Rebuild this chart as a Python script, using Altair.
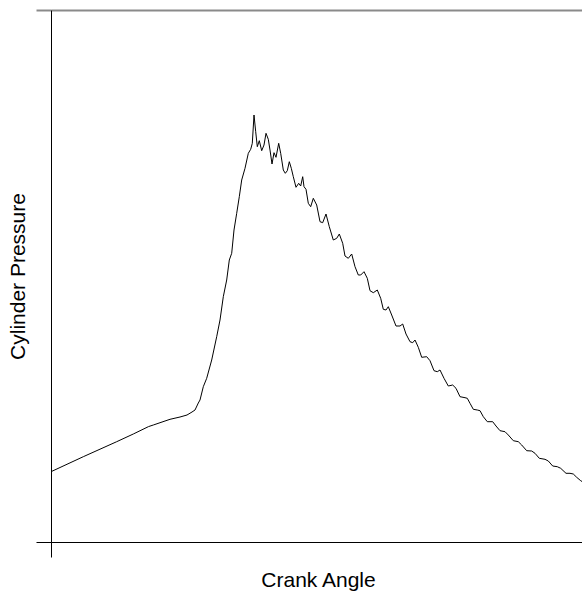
import altair as alt
import pandas as pd

# Crank angle (arbitrary units along the x axis) and cylinder pressure (arbitrary units)
crank = [0, 32.3, 65.7, 82.3, 97.5, 102.3, 119, 129, 136, 141, 144, 147.3, 149, 152.3,
         155.7, 160.7, 165.7, 169, 172.3, 175.7, 178.3, 180.7, 183, 185.7, 188.3, 190.7,
         194, 197.3, 199.7, 201.3, 203, 204.7, 206.3, 208.3, 210.7, 213, 215, 217.3, 219,
         221, 223, 225, 227.7, 229.7, 232.3, 234.3, 236.3, 238.3, 240.3, 242.3, 245, 247.7,
         249.7, 251.7, 253, 255, 257.3, 259.7, 262.3, 265.7, 269, 271.7, 275, 278.3, 282.3,
         285.7, 288.3, 291.7, 294, 297.3, 300.7, 304, 307.3, 309.7, 313, 316.3, 319, 322.3,
         326.3, 329.7, 332.3, 335, 337.3, 340.7, 345, 349, 351.7, 355, 359, 361.7, 364,
         367.3, 370.7, 375.7, 379, 383, 386.3, 389, 393, 397.3, 401.7, 405, 409, 414, 416.3,
         419, 422.3, 426.3, 429, 432.3, 436.3, 441.7, 445, 449, 454, 457.3, 462.3, 467.3,
         470.7, 475.7, 480.7, 484, 488.3, 494, 497.3, 501.7, 506.3, 509.7, 515, 519, 522.3,
         525.7, 529.7, 531]
pressure = [70.3, 85.3, 100.3, 108, 115.4, 117, 122.7, 125, 127, 130, 132, 139, 142, 155.3,
            163.7, 182, 205.3, 222, 245.3, 262, 282, 288.7, 312, 328.7, 345.3, 362,
            373.7, 388.7, 392.7, 398.7, 427, 410.3, 395.3, 401.3, 391.3, 397, 408.7, 402.7, 392,
            378, 389.3, 384.7, 398.7, 388.7, 372, 368.7, 371.3, 380.3, 373.7, 365.3, 354.7, 358.7,
            356, 365.3, 355.3, 352.7, 338.7, 335.3, 343.7, 337, 320.3, 319.3, 328, 315.3, 302,
            303.7, 308, 298.7, 286, 283.7, 288, 275.3, 267, 267, 270.3, 263.7, 251.3, 249.3,
            252, 243.7, 232.7, 232, 235.3, 227, 216, 216, 218, 208, 200.3, 199.3, 202,
            194.7, 184.7, 185.3, 181.3, 171.3, 170.3, 172, 163.7, 156, 157, 153.7, 145.3, 144.3, 143.7,
            138.7, 132.7, 132, 131.3, 125.3, 120.3, 120.3, 116, 111.3, 110.3, 107, 101.3, 100.3,
            97, 91.3, 91, 88.7, 83.7, 82.7, 81, 76, 75.3, 73.7, 68.7, 68.7, 68,
            64.7, 61.3, 60.5]

x_domain = [0, 531]
y_domain = [0, 532]

df = pd.DataFrame({"crank": crank, "pressure": pressure})

FONT = "Liberation Sans"

chart = alt.Chart(df).mark_line(color="black", strokeWidth=1).encode(
    x=alt.X(
        "crank:Q",
        scale=alt.Scale(domain=x_domain, nice=False, zero=False),
        axis=alt.Axis(
            values=[x_domain[0]], labels=False, tickSize=15, tickColor="black",
            tickWidth=1, domainColor="black", domainWidth=1, grid=False,
            title="Crank Angle", titleFont=FONT, titleFontSize=21,
            titleFontWeight="normal", titleColor="black",
            titleX=267, titleY=44, titleBaseline="alphabetic", titleAlign="center",
        ),
    ),
    y=alt.Y(
        "pressure:Q",
        scale=alt.Scale(domain=y_domain, nice=False, zero=False),
        axis=alt.Axis(
            values=y_domain, labels=False, tickSize=15,
            tickColor={"condition": {"test": "datum.value > 0", "value": "#8a8a8a"}, "value": "black"},
            tickWidth={"condition": {"test": "datum.value > 0", "value": 2}, "value": 1},
            domainColor="black", domainWidth=1,
            grid=True,
            gridColor={"condition": {"test": "datum.value > 0", "value": "#8a8a8a"}, "value": "black"},
            gridWidth={"condition": {"test": "datum.value > 0", "value": 2}, "value": 1},
            title="Cylinder Pressure", titleFont=FONT, titleFontSize=21,
            titleFontWeight="normal", titleColor="black",
            titleX=-27, titleY=266, titleAngle=270, titleBaseline="alphabetic",
            titleAlign="center",
        ),
    ),
).properties(
    width=531,
    height=532,
    autosize=alt.AutoSizeParams(type="none"),
    padding={"left": 51, "top": 10, "right": 0, "bottom": 51},
    background="white",
).configure_view(strokeWidth=0)

chart.save("out.html", embed_options={"renderer": "svg", "actions": False})
